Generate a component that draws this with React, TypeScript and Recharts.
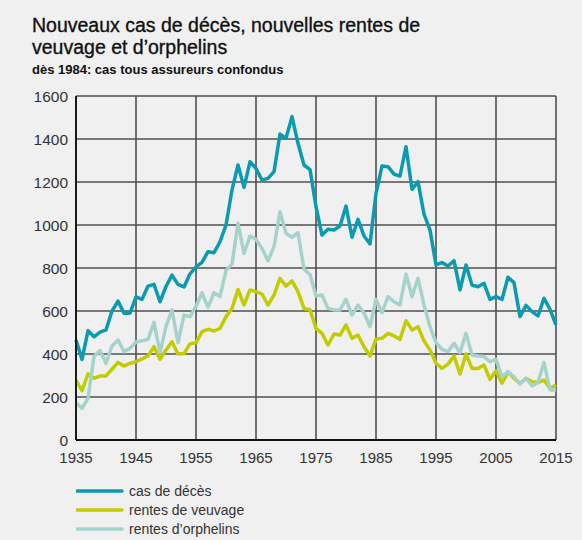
import React from 'react'
import { LineChart, Line, XAxis, YAxis, CartesianGrid } from 'recharts'

const years = [
  1935, 1936, 1937, 1938, 1939, 1940, 1941, 1942, 1943, 1944,
  1945, 1946, 1947, 1948, 1949, 1950, 1951, 1952, 1953, 1954,
  1955, 1956, 1957, 1958, 1959, 1960, 1961, 1962, 1963, 1964,
  1965, 1966, 1967, 1968, 1969, 1970, 1971, 1972, 1973, 1974,
  1975, 1976, 1977, 1978, 1979, 1980, 1981, 1982, 1983, 1984,
  1985, 1986, 1987, 1988, 1989, 1990, 1991, 1992, 1993, 1994,
  1995, 1996, 1997, 1998, 1999, 2000, 2001, 2002, 2003, 2004,
  2005, 2006, 2007, 2008, 2009, 2010, 2011, 2012, 2013, 2014,
  2015,
]

// cas de décès
const deces = [
  465, 375, 508, 480, 502, 512, 600, 646, 590, 590,
  666, 654, 716, 724, 643, 714, 767, 724, 712, 773,
  805, 826, 876, 871, 922, 1000, 1163, 1279, 1175, 1294,
  1263, 1209, 1217, 1248, 1423, 1403, 1504, 1380, 1279, 1258,
  1085, 953, 980, 977, 995, 1088, 943, 1026, 949, 912,
  1147, 1274, 1271, 1237, 1228, 1364, 1166, 1202, 1050, 977,
  814, 825, 809, 834, 698, 814, 721, 713, 729, 654,
  667, 654, 757, 732, 574, 626, 597, 577, 659, 608,
  535,
]

// rentes de veuvage
const veuvage = [
  279, 229, 308, 287, 298, 298, 329, 361, 344, 357,
  364, 377, 391, 434, 375, 419, 457, 400, 402, 447,
  452, 504, 515, 507, 519, 574, 612, 700, 628, 698,
  690, 679, 628, 674, 752, 716, 740, 690, 612, 606,
  519, 496, 442, 493, 488, 535, 473, 488, 434, 391,
  470, 473, 496, 484, 468, 555, 512, 527, 461, 419,
  357, 333, 353, 391, 307, 400, 333, 333, 349, 282,
  322, 264, 318, 287, 264, 287, 271, 267, 279, 240,
  256,
]

// rentes d'orphelins
const orphelins = [
  174, 147, 194, 388, 416, 357, 437, 465, 411, 426,
  456, 462, 468, 547, 406, 527, 605, 453, 581, 574,
  622, 685, 617, 685, 667, 788, 819, 1008, 868, 949,
  933, 891, 834, 899, 1062, 961, 943, 964, 795, 770,
  670, 674, 612, 605, 605, 654, 581, 628, 592, 527,
  654, 592, 667, 643, 628, 772, 667, 752, 628, 527,
  453, 422, 411, 450, 406, 496, 395, 391, 388, 364,
  375, 294, 318, 294, 260, 287, 251, 267, 360, 233,
  233,
]

const xTicks = [1935, 1945, 1955, 1965, 1975, 1985, 1995, 2005, 2015]
const yTicks = [0, 200, 400, 600, 800, 1000, 1200, 1400, 1600]

const series = [
  { key: 'deces', name: 'cas de décès', color: '#0b9bb0' },
  { key: 'veuvage', name: 'rentes de veuvage', color: '#c2cc00' },
  { key: 'orphelins', name: 'rentes d’orphelins', color: '#a5d3cb' },
]

const data = years.map((year, i) => ({
  year,
  deces: deces[i],
  veuvage: veuvage[i],
  orphelins: orphelins[i],
}))

const font = '"Liberation Sans", Arial, Helvetica, sans-serif'

export default function App() {
  return (
    <div
      style={{
        position: 'absolute',
        left: 0,
        top: 0,
        width: 582,
        height: 540,
        background: '#f0f0f0',
        fontFamily: font,
        color: '#111',
      }}
    >
      <div
        style={{
          position: 'absolute',
          left: 32,
          top: 14,
          fontSize: 19.5,
          lineHeight: '22px',
          WebkitTextStroke: '0.35px #111',
        }}
      >
        Nouveaux cas de décès, nouvelles rentes de
        <br />
        veuvage et d’orphelins
      </div>
      <div style={{ position: 'absolute', left: 32, top: 62, fontSize: 13, fontWeight: 'bold' }}>
        dès 1984: cas tous assureurs confondus
      </div>

      <div style={{ position: 'absolute', left: 0, top: 0 }}>
        <LineChart
          width={582}
          height={475}
          data={data}
          margin={{ top: 96, right: 26, left: 0, bottom: 5 }}
        >
          <CartesianGrid stroke="#505050" strokeWidth={1.6} />
          <XAxis
            dataKey="year"
            type="number"
            domain={[1935, 2015]}
            ticks={xTicks}
            height={30}
            tickLine={false}
            tickSize={6}
            tickMargin={6}
            axisLine={{ stroke: '#111', strokeWidth: 1.8 }}
            tick={{ fontSize: 15, fill: '#333', fontFamily: font }}
          />
          <YAxis
            type="number"
            domain={[0, 1600]}
            ticks={yTicks}
            width={76}
            tickLine={false}
            axisLine={{ stroke: '#111', strokeWidth: 1.8 }}
            tick={{ fontSize: 15.5, fill: '#333', fontFamily: font }}
          />
          {series.map(s => (
            <Line
              key={s.key}
              type="linear"
              dataKey={s.key}
              stroke={s.color}
              strokeWidth={3.5}
              strokeLinejoin="round"
              dot={false}
              isAnimationActive={false}
            />
          ))}
        </LineChart>
      </div>

      {/* legend */}
      <div style={{ position: 'absolute', left: 76, top: 481 }}>
        {series.map(s => (
          <div key={s.key} style={{ display: 'flex', alignItems: 'center', height: 19 }}>
            <svg width={48} height={6} style={{ marginRight: 5 }}>
              <line x1={1} y1={3} x2={46} y2={3} stroke={s.color} strokeWidth={3.5} strokeLinecap="round" />
            </svg>
            <span style={{ fontSize: 14, color: '#333' }}>{s.name}</span>
          </div>
        ))}
      </div>
    </div>
  )
}
